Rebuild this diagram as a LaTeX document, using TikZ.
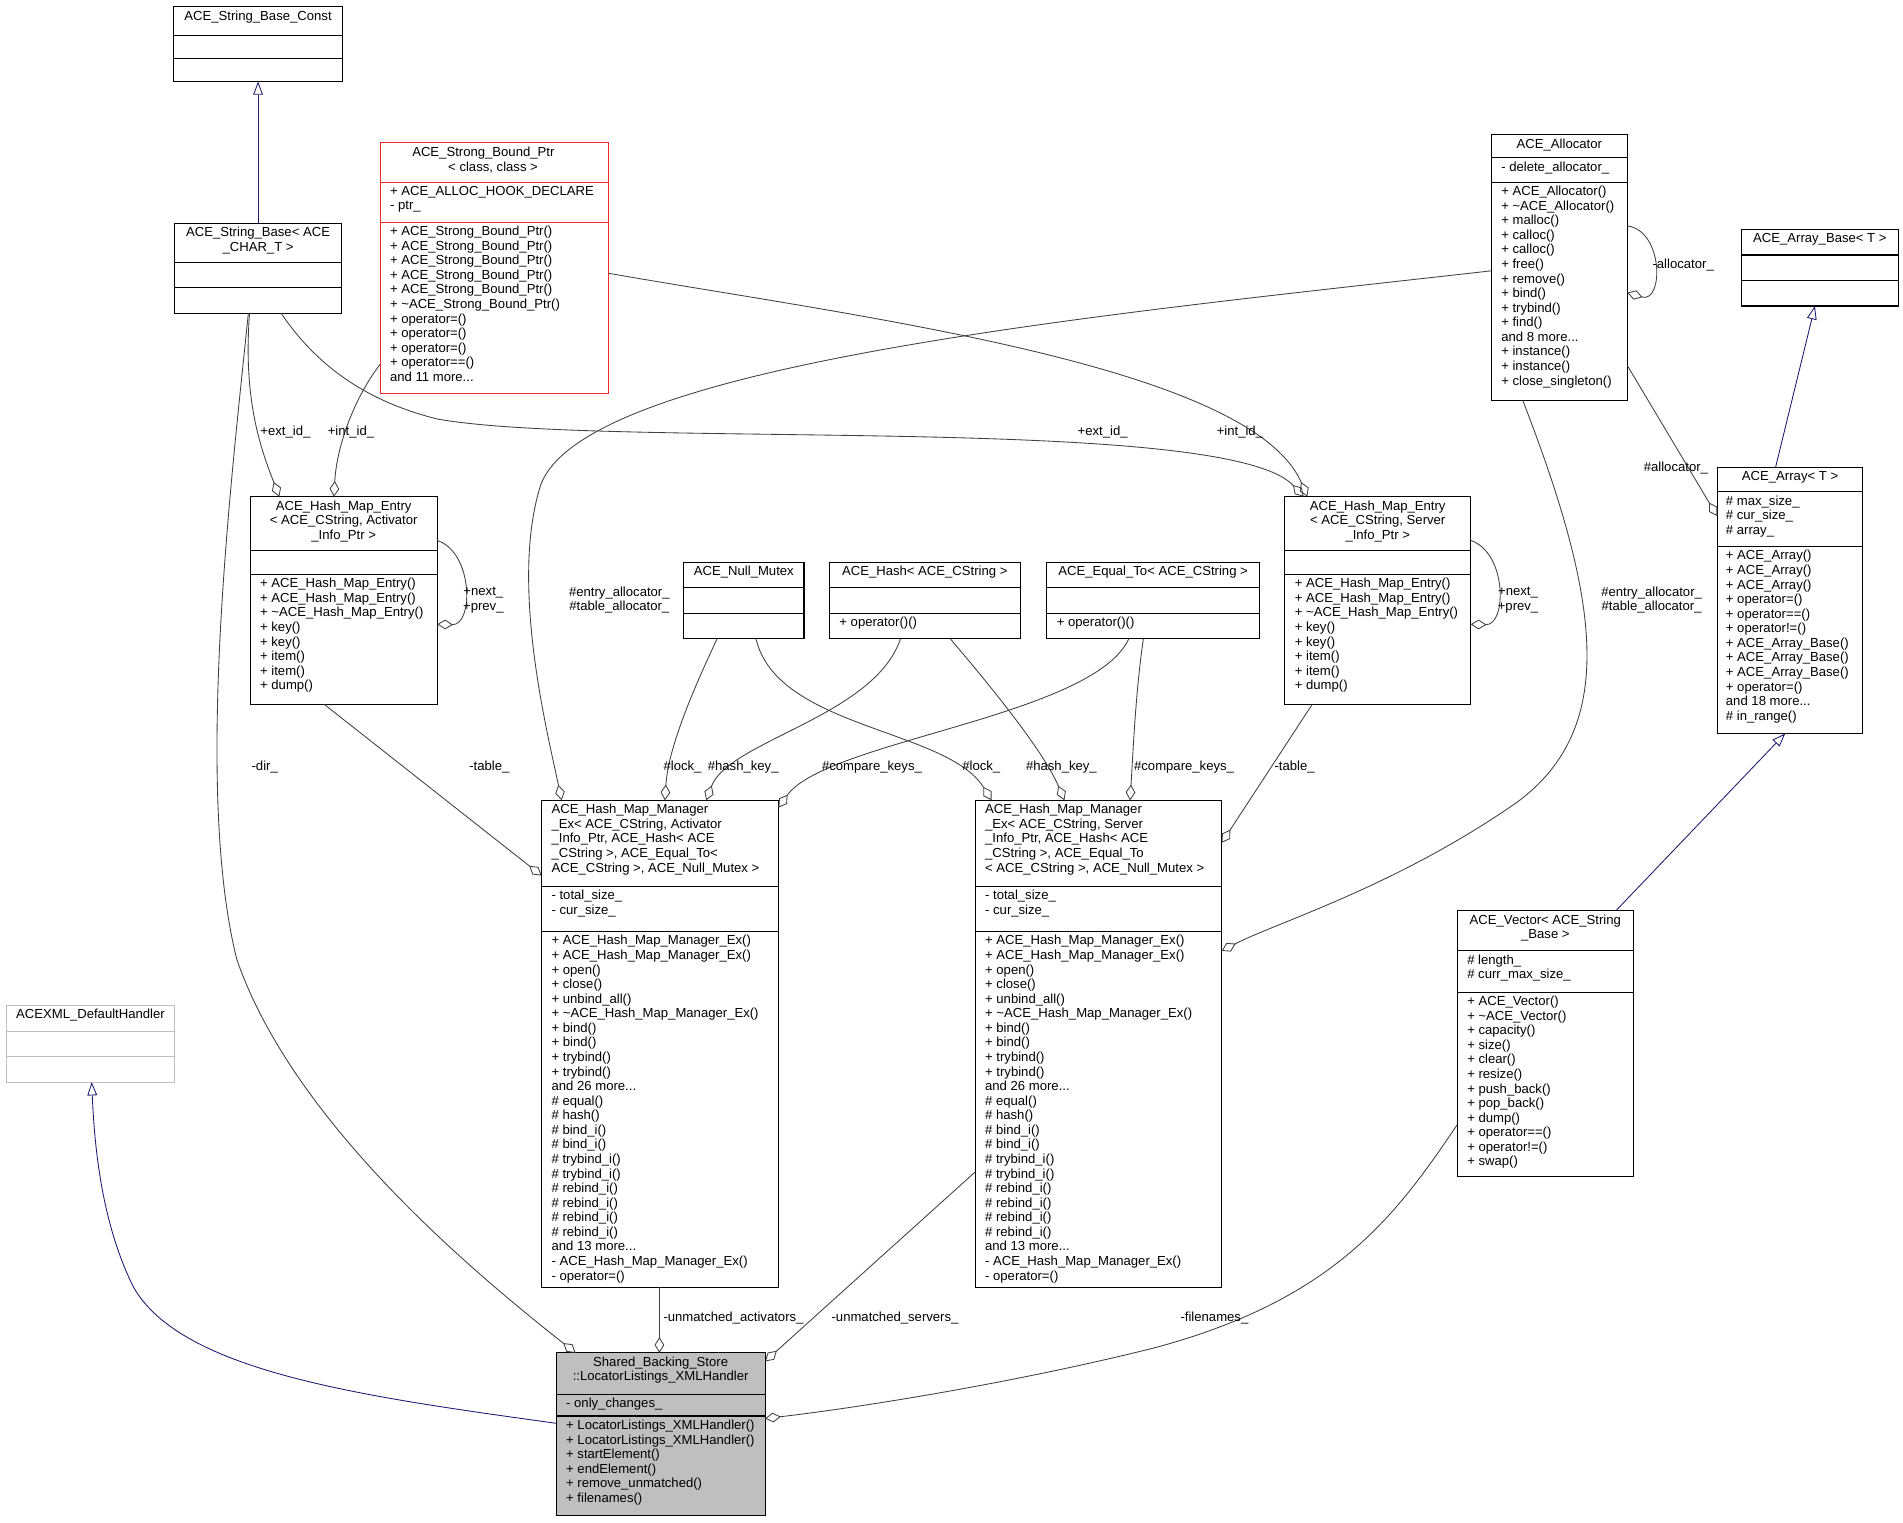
\documentclass[tikz,border=0pt]{standalone}
\usepackage{fontspec}
\setmainfont{Liberation Sans}
\usetikzlibrary{arrows.meta}
\definecolor{edgec}{RGB}{64,64,64}
\definecolor{navyc}{RGB}{25,25,112}
\definecolor{redc}{RGB}{240,40,40}
\definecolor{grayb}{RGB}{191,191,191}
\tikzset{
 box/.style={draw,line width=0.9pt,inner sep=0pt,outer sep=0pt},
 txt/.style={font=\fontsize{10.8}{12}\selectfont,inner sep=0pt,align=left,anchor=north west},
 ttl/.style={font=\fontsize{10.8}{12}\selectfont,inner sep=0pt,align=center,anchor=north},
 lbl/.style={font=\fontsize{10.8}{12}\selectfont,inner sep=0pt,align=center},
 agg/.style={draw=edgec,line width=0.7pt,-{Diamond[open,length=13pt,width=8pt]}},
 gen/.style={draw=navyc,line width=0.7pt,-{Triangle[open,length=11pt,width=8pt]}},
}
\newcommand\umlbox[8]{%
 \node[box,#8,anchor=north west,minimum width={#4pt-#2pt},minimum height={#5pt-#3pt}] (#1) at (#2,#3) {};
 \draw[line width=0.9pt,#8,fill=none] (#2,#6) -- (#4,#6);
 \draw[line width=0.9pt,#8,fill=none] (#2,#7) -- (#4,#7);}
\begin{document}
\begin{tikzpicture}[x=1pt,y=-1pt]
\useasboundingbox[fill=white] (0,0) rectangle (1567,1254);
% boxes
\umlbox{sbc}{143}{5}{282}{67}{29}{48}{}
\node[ttl] (sbct) at (212.5,9) {ACE\_String\_Base\_Const};
\umlbox{sb}{144}{184}{281}{258}{216}{237}{}
\node[ttl] (sbt) at (212.5,187) {ACE\_String\_Base< ACE\\\_CHAR\_T >};
\umlbox{sp}{313}{117}{501}{324}{150}{183}{draw=redc}
\node[ttl] (spt) at (398,121) {ACE\_Strong\_Bound\_Ptr\\\hspace*{16pt}< class, class >};
\node[txt] (spa) at (321,153) {+ ACE\_ALLOC\_HOOK\_DECLARE\\- ptr\_};
\node[txt] (spm) at (321,186) {+ ACE\_Strong\_Bound\_Ptr()\\+ ACE\_Strong\_Bound\_Ptr()\\+ ACE\_Strong\_Bound\_Ptr()\\+ ACE\_Strong\_Bound\_Ptr()\\+ ACE\_Strong\_Bound\_Ptr()\\+ \textasciitilde ACE\_Strong\_Bound\_Ptr()\\+ operator=()\\+ operator=()\\+ operator=()\\+ operator==()\\and 11 more...};
\umlbox{al}{1228}{111}{1340}{330}{130}{150}{}
\node[ttl] (alt) at (1284,114) {ACE\_Allocator};
\node[txt] (ala) at (1236,133) {- delete\_allocator\_};
\node[txt] (alm) at (1236,153) {+ ACE\_Allocator()\\+ \textasciitilde ACE\_Allocator()\\+ malloc()\\+ calloc()\\+ calloc()\\+ free()\\+ remove()\\+ bind()\\+ trybind()\\+ find()\\and 8 more...\\+ instance()\\+ instance()\\+ close\_singleton()};
\umlbox{ab}{1434}{189}{1563}{252}{210}{231}{}
\node[ttl] (abt) at (1498.5,192) {ACE\_Array\_Base< T >};
\umlbox{ar}{1414}{385}{1534}{604}{405}{450}{}
\node[ttl] (art) at (1474,388) {ACE\_Array< T >};
\node[txt] (ara) at (1421,408) {\# max\_size\_\\\# cur\_size\_\\\# array\_};
\node[txt] (arm) at (1421,453) {+ ACE\_Array()\\+ ACE\_Array()\\+ ACE\_Array()\\+ operator=()\\+ operator==()\\+ operator!=()\\+ ACE\_Array\_Base()\\+ ACE\_Array\_Base()\\+ ACE\_Array\_Base()\\+ operator=()\\and 18 more...\\\# in\_range()};
\umlbox{ea}{206}{409}{360}{580}{453}{473}{}
\node[ttl] (eat) at (283,412) {ACE\_Hash\_Map\_Entry\\< ACE\_CString, Activator\\\_Info\_Ptr >};
\node[txt] (eam) at (214,476) {+ ACE\_Hash\_Map\_Entry()\\+ ACE\_Hash\_Map\_Entry()\\+ \textasciitilde ACE\_Hash\_Map\_Entry()\\+ key()\\+ key()\\+ item()\\+ item()\\+ dump()};
\umlbox{es}{1058}{409}{1211}{580}{453}{473}{}
\node[ttl] (est) at (1134.5,412) {ACE\_Hash\_Map\_Entry\\< ACE\_CString, Server\\\_Info\_Ptr >};
\node[txt] (esm) at (1066,476) {+ ACE\_Hash\_Map\_Entry()\\+ ACE\_Hash\_Map\_Entry()\\+ \textasciitilde ACE\_Hash\_Map\_Entry()\\+ key()\\+ key()\\+ item()\\+ item()\\+ dump()};
\umlbox{nm}{563}{463}{662}{526}{484}{505}{}
\node[ttl] (nmt) at (612.5,466) {ACE\_Null\_Mutex};
\umlbox{hs}{683}{463}{840}{526}{484}{505}{}
\node[ttl] (hst) at (761.5,466) {ACE\_Hash< ACE\_CString >};
\node[txt] (hsm) at (691,508) {+ operator()()};
\umlbox{eq}{862}{463}{1037}{526}{484}{505}{}
\node[ttl] (eqt) at (949.5,466) {ACE\_Equal\_To< ACE\_CString >};
\node[txt] (eqm) at (870,508) {+ operator()()};
\umlbox{ha}{446}{659}{641}{1060}{730}{767}{}
\node[txt] (hat) at (454,662) {ACE\_Hash\_Map\_Manager\\\_Ex< ACE\_CString, Activator\\\_Info\_Ptr, ACE\_Hash< ACE\\\_CString >, ACE\_Equal\_To<\\ ACE\_CString >, ACE\_Null\_Mutex >};
\node[txt] (haa) at (454,733) {- total\_size\_\\- cur\_size\_};
\node[txt] (ham) at (454,770) {+ ACE\_Hash\_Map\_Manager\_Ex()\\+ ACE\_Hash\_Map\_Manager\_Ex()\\+ open()\\+ close()\\+ unbind\_all()\\+ \textasciitilde ACE\_Hash\_Map\_Manager\_Ex()\\+ bind()\\+ bind()\\+ trybind()\\+ trybind()\\and 26 more...\\\# equal()\\\# hash()\\\# bind\_i()\\\# bind\_i()\\\# trybind\_i()\\\# trybind\_i()\\\# rebind\_i()\\\# rebind\_i()\\\# rebind\_i()\\\# rebind\_i()\\and 13 more...\\- ACE\_Hash\_Map\_Manager\_Ex()\\- operator=()};
\umlbox{hv}{803}{659}{1006}{1060}{730}{767}{}
\node[txt] (hvt) at (811,662) {ACE\_Hash\_Map\_Manager\\\_Ex< ACE\_CString, Server\\\_Info\_Ptr, ACE\_Hash< ACE\\\_CString >, ACE\_Equal\_To\\< ACE\_CString >, ACE\_Null\_Mutex >};
\node[txt] (hva) at (811,733) {- total\_size\_\\- cur\_size\_};
\node[txt] (hvm) at (811,770) {+ ACE\_Hash\_Map\_Manager\_Ex()\\+ ACE\_Hash\_Map\_Manager\_Ex()\\+ open()\\+ close()\\+ unbind\_all()\\+ \textasciitilde ACE\_Hash\_Map\_Manager\_Ex()\\+ bind()\\+ bind()\\+ trybind()\\+ trybind()\\and 26 more...\\\# equal()\\\# hash()\\\# bind\_i()\\\# bind\_i()\\\# trybind\_i()\\\# trybind\_i()\\\# rebind\_i()\\\# rebind\_i()\\\# rebind\_i()\\\# rebind\_i()\\and 13 more...\\- ACE\_Hash\_Map\_Manager\_Ex()\\- operator=()};
\umlbox{ve}{1200}{750}{1345}{969}{783}{817}{}
\node[ttl] (vet) at (1272.5,753) {ACE\_Vector< ACE\_String\\\_Base >};
\node[txt] (vea) at (1208,786) {\# length\_\\\# curr\_max\_size\_};
\node[txt] (vem) at (1208,820) {+ ACE\_Vector()\\+ \textasciitilde ACE\_Vector()\\+ capacity()\\+ size()\\+ clear()\\+ resize()\\+ push\_back()\\+ pop\_back()\\+ dump()\\+ operator==()\\+ operator!=()\\+ swap()};
\umlbox{dh}{5}{828}{144}{891}{849}{870}{draw=grayb}
\node[ttl] (dht) at (74.5,831) {ACEXML\_DefaultHandler};
\umlbox{sh}{458}{1114}{630}{1248}{1148}{1166}{fill=grayb}
\node[ttl] (sht) at (544,1117) {Shared\_Backing\_Store\\::LocatorListings\_XMLHandler};
\node[txt] (sha) at (466,1151) {- only\_changes\_};
\node[txt] (shm) at (466,1169) {+ LocatorListings\_XMLHandler()\\+ LocatorListings\_XMLHandler()\\+ startElement()\\+ endElement()\\+ remove\_unmatched()\\+ filenames()};
% generalization
\draw[gen] (sb.north) -- (sbc.south);
\draw[gen] ([xshift=-12pt]ar.north) -- ([xshift=-4pt]ab.south);
\draw[gen] ([xshift=58pt]ve.north) -- ([xshift=-4pt]ar.south);
\draw[gen] ([yshift=-58pt]sh.north west) .. controls (300,1150) and (150,1130) .. (110,1060) .. controls (85,1010) and (78,950) .. ([xshift=1pt]dh.south);
% aggregations
\draw[agg] ([xshift=-8pt]sb.south) .. controls (190,400) and (160,650) .. (195,790) .. controls (240,920) and (380,1040) .. ([xshift=-70pt]sh.north);
\node[lbl] (l1) at (218,632) {-dir\_};
\draw[agg] ([xshift=-7pt]sb.south) .. controls (200,330) and (215,370) .. ([xshift=-53pt]ea.north);
\node[lbl] (l2) at (235,356) {+ext\_id\_};
\draw[agg] ([yshift=-183pt]sp.north west) .. controls (290,330) and (277,370) .. ([xshift=-8pt]ea.north);
\node[lbl] (l3) at (289,356) {+int\_id\_};
\draw[agg] ([xshift=19pt]sb.south) .. controls (260,300) and (300,330) .. (360,345) .. controls (500,370) and (1010,340) .. ([xshift=-61pt]es.north);
\node[lbl] (l4) at (908,356) {+ext\_id\_};
\draw[agg] ([yshift=-108pt]sp.north east) .. controls (700,260) and (1030,300) .. ([xshift=-58pt]es.north);
\node[lbl] (l5) at (1021,356) {+int\_id\_};
\draw[agg] ([yshift=-36pt]ea.north east) .. controls (390,455) and (390,515) .. ([yshift=-105pt]ea.north east);
\node[lbl] (l6) at (398,494) {+next\_\\+prev\_};
\draw[agg] ([yshift=-36pt]es.north east) .. controls (1241,455) and (1241,515) .. ([yshift=-105pt]es.north east);
\node[lbl] (l7) at (1250,494) {+next\_\\+prev\_};
\draw[agg] ([yshift=-75pt]al.north east) .. controls (1370,190) and (1370,250) .. ([yshift=-130pt]al.north east);
\node[lbl] (l8) at (1386,218) {-allocator\_};
\draw[agg] ([yshift=-190pt]al.north east) -- ([yshift=-40pt]ar.north west);
\node[lbl] (l9) at (1380,385) {\#allocator\_};
\draw[agg] ([yshift=-112pt]al.north west) .. controls (900,260) and (480,300) .. (445,400) .. controls (420,480) and (450,600) .. ([xshift=-81pt]ha.north);
\node[lbl] (l10) at (510,494) {\#entry\_allocator\_\\\#table\_allocator\_};
\draw[agg] ([xshift=-30pt]al.south) .. controls (1320,500) and (1330,600) .. (1250,660) .. controls (1150,730) and (1050,760) .. ([yshift=-124pt]hv.north east);
\node[lbl] (l11) at (1360,494) {\#entry\_allocator\_\\\#table\_allocator\_};
\draw[agg] ([xshift=-16pt]ea.south) -- ([yshift=-62pt]ha.north west);
\node[lbl] (l12) at (403,632) {-table\_};
\draw[agg] ([xshift=-54pt]es.south) -- ([yshift=-35pt]hv.north east);
\node[lbl] (l13) at (1066,632) {-table\_};
\draw[agg] ([xshift=-22pt]nm.south) .. controls (565,580) and (550,620) .. ([xshift=4pt]ha.north);
\node[lbl] (l14) at (562,632) {\#lock\_};
\draw[agg] ([xshift=10pt]nm.south) .. controls (640,600) and (780,600) .. ([xshift=-88pt]hv.north);
\node[lbl] (l15) at (808,632) {\#lock\_};
\draw[agg] ([xshift=-20pt]hs.south) .. controls (720,590) and (600,610) .. ([xshift=38pt]ha.north);
\node[lbl] (l16) at (612,632) {\#hash\_key\_};
\draw[agg] ([xshift=21pt]hs.south) .. controls (820,570) and (860,620) .. ([xshift=-28pt]hv.north);
\node[lbl] (l17) at (874,632) {\#hash\_key\_};
\draw[agg] ([xshift=-20pt]eq.south) .. controls (900,590) and (680,610) .. ([yshift=-6pt]ha.north east);
\node[lbl] (l18) at (718,632) {\#compare\_keys\_};
\draw[agg] ([xshift=-8pt]eq.south) .. controls (935,570) and (933,620) .. ([xshift=26pt]hv.north);
\node[lbl] (l19) at (975,632) {\#compare\_keys\_};
\draw[agg] ([xshift=-0.5pt]ha.south) -- ([xshift=-1pt]sh.north);
\node[lbl] (l20) at (604,1085) {-unmatched\_activators\_};
\draw[agg] ([yshift=-306pt]hv.north west) -- ([yshift=-7pt]sh.north east);
\node[lbl] (l21) at (737,1085) {-unmatched\_servers\_};
\draw[agg] ([yshift=-176pt]ve.north west) .. controls (1150,1000) and (1100,1070) .. (950,1110) .. controls (830,1140) and (700,1160) .. ([yshift=-54pt]sh.north east);
\node[lbl] (l22) at (1000,1085) {-filenames\_};
\end{tikzpicture}
\end{document}
